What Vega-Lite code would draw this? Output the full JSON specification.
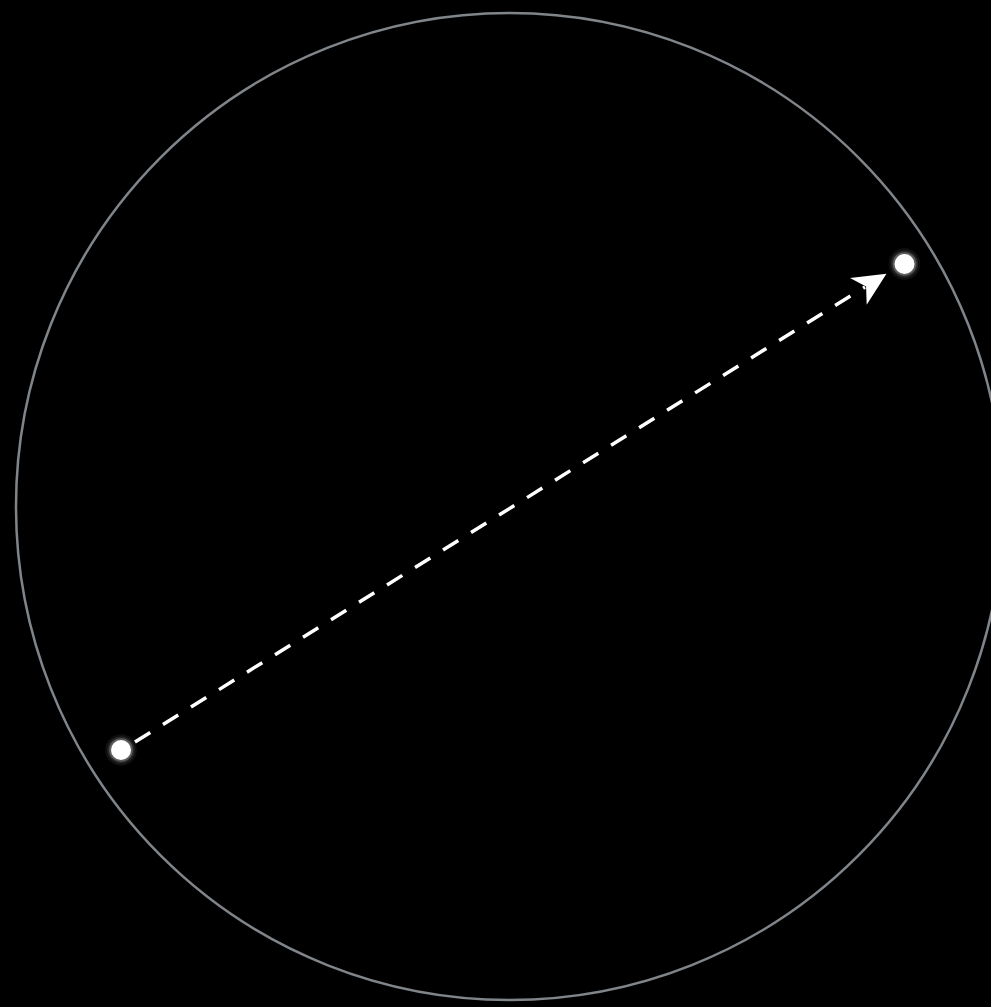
{
  "$schema": "https://vega.github.io/schema/vega-lite/v6.json",
  "width": 991,
  "height": 1007,
  "padding": 0,
  "autosize": {"type": "none"},
  "background": "#000000",
  "config": {"view": {"stroke": null}},
  "datasets": {
    "circle": [{"x": 0, "y": 0}],
    "path": [
      {"x": -0.7589, "y": -0.4772, "order": 0},
      {"x": 0.7204, "y": 0.4448, "order": 1}
    ],
    "points": [
      {"name": "start", "x": -0.7872, "y": -0.4934},
      {"name": "end", "x": 0.8004, "y": 0.4914}
    ],
    "arrow": [{"x": 0.7354, "y": 0.4539}]
  },
  "encoding": {
    "x": {"field": "x", "type": "quantitative", "scale": {"domain": [-1.0324, 0.9757], "nice": false, "zero": false}, "axis": null},
    "y": {"field": "y", "type": "quantitative", "scale": {"domain": [-1.0142, 1.0263], "nice": false, "zero": false}, "axis": null}
  },
  "layer": [
    {
      "data": {"name": "circle"},
      "mark": {"type": "point", "shape": "circle", "filled": false, "size": 974169, "stroke": "#80858a", "strokeWidth": 2.5, "opacity": 1}
    },
    {
      "data": {"name": "path"},
      "mark": {"type": "line", "stroke": "#ffffff", "strokeWidth": 3.5, "strokeDash": [18, 15], "strokeCap": "butt"},
      "encoding": {"order": {"field": "order", "type": "ordinal"}}
    },
    {
      "data": {"name": "arrow"},
      "mark": {"type": "point", "shape": "M1,0 L-1,-0.95 L-0.45,0 L-1,0.95 Z", "filled": true, "size": 1100, "angle": 328, "fill": "#ffffff", "opacity": 1, "strokeWidth": 0}
    },
    {
      "data": {"name": "points"},
      "mark": {"type": "point", "shape": "circle", "filled": true, "size": 1000, "fill": "#ffffff", "opacity": 0.06, "strokeWidth": 0}
    },
    {
      "data": {"name": "points"},
      "mark": {"type": "point", "shape": "circle", "filled": true, "size": 740, "fill": "#ffffff", "opacity": 0.1, "strokeWidth": 0}
    },
    {
      "data": {"name": "points"},
      "mark": {"type": "point", "shape": "circle", "filled": true, "size": 560, "fill": "#ffffff", "opacity": 0.25, "strokeWidth": 0}
    },
    {
      "data": {"name": "points"},
      "mark": {"type": "point", "shape": "circle", "filled": true, "size": 400, "fill": "#ffffff", "opacity": 1, "strokeWidth": 0}
    }
  ]
}
